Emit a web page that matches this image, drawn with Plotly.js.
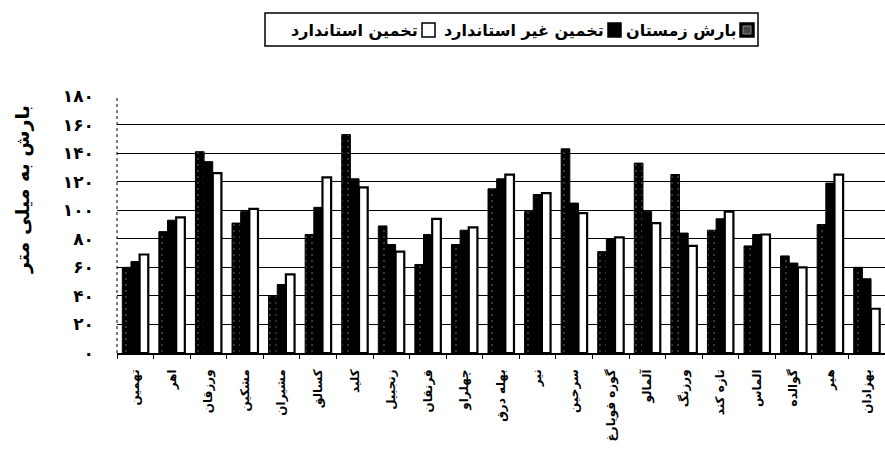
<!DOCTYPE html>
<html>
<head>
<meta charset="utf-8">
<script src="https://cdn.plot.ly/plotly-3.0.1.min.js"></script>
<style>html,body{margin:0;padding:0;background:#fff;}#chart{width:885px;height:464px;}</style>
</head>
<body>
<div id="chart"></div>
<script>
const stations = ["تهمین","اهر","ورزقان","مشکین","مشیران","کسالق","کلید","زنجبیل","قرنقان","چهلراو","بهله درق","نیر","سرخین","گوزه قویارغ","آلمالو","ورزنگ","تازه کند","الماس","گوالده","هیر","بهزادان"];
const winterRain   = [60, 85, 141, 91, 40, 83, 153, 89, 62, 76, 115, 99, 143, 71, 133, 125, 86, 75, 68, 90, 60];
const nonStdEst    = [64, 93, 134, 99, 48, 102, 122, 76, 83, 86, 122, 111, 105, 80, 99, 84, 94, 83, 63, 119, 52];
const stdEst       = [69, 95, 126, 101, 55, 123, 116, 71, 94, 88, 125, 112, 98, 81, 91, 75, 99, 83, 60, 125, 31];
const seriesNames  = ["بارش زمستان", "تخمین غیر استاندارد", "تخمین استاندارد"];
const yTickVals    = [0, 20, 40, 60, 80, 100, 120, 140, 160, 180];
const yTickText    = ["۰","۲۰","۴۰","۶۰","۸۰","۱۰۰","۱۲۰","۱۴۰","۱۶۰","۱۸۰"];
const yTitle       = "بارش به میلی متر";

const FONT = "DejaVu Sans";

const traces = [
  {type:"bar", name:seriesNames[0], x:stations, y:winterRain,
   marker:{color:"#000", line:{color:"#000", width:1},
           pattern:{shape:".", fgcolor:"#4a4a4a", bgcolor:"#000", size:6, solidity:0.08}}},
  {type:"bar", name:seriesNames[1], x:stations, y:nonStdEst,
   marker:{color:"#000", line:{color:"#000", width:1}}},
  {type:"bar", name:seriesNames[2], x:stations, y:stdEst,
   marker:{color:"#fff", line:{color:"#000", width:2.2}}}
];

// custom legend (symbol to the right of the text, RTL)
const L = 117, W = 768, B = 353, H = 257;
const px = v => (v - L) / W;
const py = v => (B - v) / H;
const legendSquares = [
  {x0:740, x1:754, text:seriesNames[0], fill:"#000", pattern:true},
  {x0:608, x1:621, text:seriesNames[1], fill:"#000"},
  {x0:422, x1:435, text:seriesNames[2], fill:"#fff"}
];
const shapes = [
  {type:"rect", xref:"paper", yref:"paper", x0:px(265), x1:px(758), y0:py(46), y1:py(13),
   line:{color:"#000", width:1.5}, fillcolor:"rgba(0,0,0,0)"},
  {type:"line", xref:"paper", yref:"paper", x0:0, x1:0, y0:0, y1:1,
   line:{color:"#000", width:1, dash:"dot"}}
];
const annotations = [];
legendSquares.forEach(s => {
  shapes.push({type:"rect", xref:"paper", yref:"paper", x0:px(s.x0), x1:px(s.x1), y0:py(37), y1:py(23),
    line:{color:"#000", width:1.5}, fillcolor:s.fill});
  if (s.pattern) {
    shapes.push({type:"rect", xref:"paper", yref:"paper", x0:px(s.x0+3), x1:px(s.x1-3), y0:py(34), y1:py(26),
      line:{color:"#888", width:1}, fillcolor:"#444"});
  }
  annotations.push({xref:"paper", yref:"paper", x:px(s.x0-2), y:py(30), xanchor:"right", yanchor:"middle",
    text:s.text, showarrow:false, font:{family:FONT, size:16, color:"#000", weight:"bold"}});
});
annotations.push({xref:"paper", yref:"paper", x:px(22), y:py(190), xanchor:"center", yanchor:"middle",
  textangle:-90, text:yTitle, showarrow:false, font:{family:FONT, size:19, color:"#000", weight:"bold"}});

const layout = {
  width:885, height:464,
  margin:{l:117, r:0, t:96, b:111, pad:0},
  paper_bgcolor:"#fff", plot_bgcolor:"#fff",
  barmode:"group", bargap:0.29, bargroupgap:0,
  showlegend:false,
  font:{family:FONT, color:"#000"},
  xaxis:{type:"category", range:[-0.5, 20.5], tickangle:-90,
         tickfont:{family:FONT, size:12, color:"#000", weight:"bold"},
         showline:true, linecolor:"#000", linewidth:1.5,
         ticks:"outside", tickson:"boundaries", ticklen:4, tickcolor:"#000",
         ticklabelstandoff:10,
         showgrid:false, zeroline:false, fixedrange:true},
  yaxis:{range:[0,180], tickvals:yTickVals, ticktext:yTickText,
         tickfont:{family:FONT, size:17, color:"#000", weight:"bold"},
         ticks:"", ticklabelstandoff:22,
         showgrid:true, gridcolor:"#000", gridwidth:1.2,
         showline:false, zeroline:false},
  shapes:shapes,
  annotations:annotations
};

Plotly.newPlot("chart", traces, layout, {displayModeBar:false, staticPlot:true});
</script>
</body>
</html>
